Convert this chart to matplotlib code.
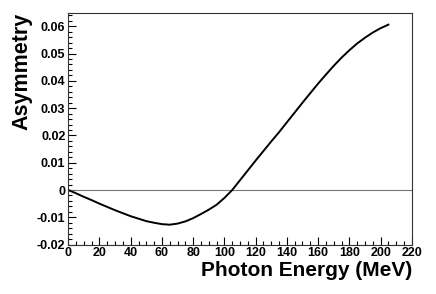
import matplotlib
matplotlib.use("Agg")
import matplotlib.pyplot as plt
from matplotlib.ticker import MultipleLocator, FuncFormatter

# photon energy (MeV) and asymmetry
energy = [0, 5, 10, 15, 20, 25, 30, 35, 40, 45, 50, 55, 60, 65, 70, 75, 80,
          85, 90, 95, 100, 105, 110, 115, 120, 125, 130, 135, 140, 145, 150,
          155, 160, 165, 170, 175, 180, 185, 190, 195, 200, 205]
asymmetry = [0.0, -0.0012, -0.0025, -0.0037, -0.0050, -0.0062, -0.0074,
             -0.0085, -0.0096, -0.0105, -0.0114, -0.0120, -0.0125, -0.0127,
             -0.0123, -0.0115, -0.0103, -0.0088, -0.0072, -0.0054, -0.0029,
             0.0000, 0.0036, 0.0072, 0.0108, 0.0143, 0.0178, 0.0212, 0.0248,
             0.0284, 0.0320, 0.0355, 0.0390, 0.0423, 0.0455, 0.0485, 0.0512,
             0.0537, 0.0558, 0.0577, 0.0593, 0.0606]

plt.rcParams["font.family"] = ["Liberation Sans", "DejaVu Sans"]
plt.rcParams["font.weight"] = "bold"

fig = plt.figure(figsize=(4.36, 2.94), dpi=100)
ax = fig.add_axes([0.1565, 0.168, 0.788, 0.789])

ax.axhline(0, color="#777777", linewidth=0.8)
ax.plot(energy, asymmetry, color="black", linewidth=1.4)

ax.set_xlim(0, 220)
ax.set_ylim(-0.02, 0.065)

ax.xaxis.set_major_locator(MultipleLocator(20))
ax.xaxis.set_minor_locator(MultipleLocator(5))
ax.yaxis.set_major_locator(MultipleLocator(0.01))
ax.yaxis.set_minor_locator(MultipleLocator(0.002))
ax.tick_params(which="both", direction="in", top=False, right=False,
               width=0.8, labelsize=9)
ax.tick_params(which="major", length=6, pad=2)
ax.tick_params(which="minor", length=3)
ax.yaxis.set_major_formatter(
    FuncFormatter(lambda v, p: "0" if abs(v) < 1e-9 else "%g" % v))

for s in ax.spines.values():
    s.set_linewidth(0.8)
    s.set_color("#333333")

ax.set_xlabel("Photon Energy (MeV)", fontsize=15, fontweight="bold", loc="right", labelpad=1)
ax.set_ylabel("Asymmetry", fontsize=15.5, fontweight="bold", loc="top", labelpad=3)

fig.savefig("out.png", dpi=100)
